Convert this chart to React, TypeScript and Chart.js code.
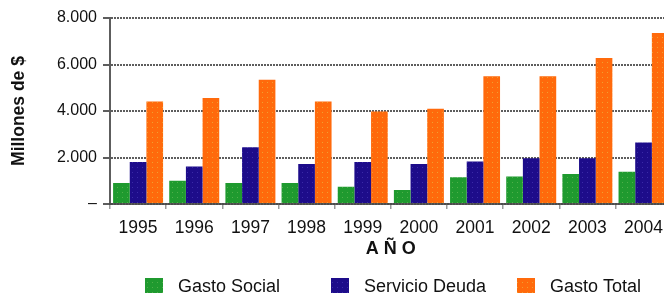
import React, { useEffect, useRef } from 'react';
import { Chart, registerables } from 'chart.js';

Chart.register(...registerables);

const categories = ['1995', '1996', '1997', '1998', '1999', '2000', '2001', '2002', '2003', '2004'];
const seriesLabels = ['Gasto Social', 'Servicio Deuda', 'Gasto Total'];
const gastoSocial = [905, 1005, 905, 905, 745, 605, 1150, 1180, 1295, 1390];
const servicioDeuda = [1810, 1610, 2445, 1725, 1810, 1725, 1825, 1970, 1970, 2640];
const gastoTotal = [4410, 4555, 5345, 4410, 3980, 4095, 5490, 5490, 6280, 7360];
const yTickValues = [0, 2000, 4000, 6000, 8000];
const yTickLabels = ['–', '2.000', '4.000', '6.000', '8.000'];
const yTitle = 'Millones de $';
const xTitle = 'A Ñ O';

const FONT = '"Liberation Sans", Arial, Helvetica, sans-serif';

function makePattern(base: string, dot: string): CanvasPattern | string {
  const c = document.createElement('canvas');
  c.width = 5;
  c.height = 5;
  const g = c.getContext('2d');
  if (!g) return base;
  g.fillStyle = base;
  g.fillRect(0, 0, 5, 5);
  g.fillStyle = dot;
  g.fillRect(2, 2, 1, 1);
  const p = g.createPattern(c, 'repeat');
  return p || base;
}

const fixedLegend = {
  id: 'fixedLegend',
  afterDraw(chart: any) {
    const ctx = chart.ctx;
    ctx.save();
    chart.data.datasets.forEach((ds: any, i: number) => {
      const x = 145 + i * 186;
      ctx.fillStyle = ds.backgroundColor;
      ctx.fillRect(x, 278, 18, 15);
      ctx.fillStyle = '#111';
      ctx.font = `18px ${FONT}`;
      ctx.textBaseline = 'alphabetic';
      ctx.textAlign = 'left';
      ctx.fillText(ds.label, x + 33, 292);
    });
    ctx.restore();
  },
};

export default function App() {
  const ref = useRef<HTMLCanvasElement | null>(null);

  useEffect(() => {
    document.body.style.margin = '0';
    const canvas = ref.current;
    if (!canvas) return;
    const green = makePattern('#1f9a2f', '#4fb04a');
    const navy = makePattern('#1d0c8a', '#3a2aa8');
    const orange = makePattern('#ff6a0c', '#f0a030');
    const gridColor = 'rgba(75,75,75,0.9)';

    const chart = new Chart(canvas, {
      type: 'bar',
      data: {
        labels: categories,
        datasets: [
          { label: seriesLabels[0], data: gastoSocial, backgroundColor: green as any },
          { label: seriesLabels[1], data: servicioDeuda, backgroundColor: navy as any },
          { label: seriesLabels[2], data: gastoTotal, backgroundColor: orange as any },
        ],
      },
      options: {
        responsive: false,
        animation: false,
        devicePixelRatio: 1,
        layout: { padding: { left: 0, right: 0, top: 18, bottom: 30 } },
        datasets: { bar: { categoryPercentage: 0.89, barPercentage: 1.0, borderWidth: 0 } },
        plugins: {
          legend: { display: false },
          tooltip: { enabled: false },
        },
        scales: {
          x: {
            offset: true,
            grid: {
              display: true,
              drawOnChartArea: false,
              drawTicks: true,
              tickLength: 5,
              color: '#999',
              lineWidth: 1.5,
            },
            border: { display: true, color: gridColor, width: 2, dash: [2, 1] },
            ticks: {
              color: '#111',
              font: { family: FONT, size: 17.5 },
              padding: 9,
              maxRotation: 0,
              autoSkip: false,
            },
            title: {
              display: true,
              text: xTitle,
              color: '#111',
              font: { family: FONT, size: 18, weight: 'bold' },
              padding: { top: 0, bottom: 5 },
            },
            afterFit(scale: any) {
              scale.height = 61;
            },
          },
          y: {
            min: 0,
            max: 8000,
            afterBuildTicks(scale: any) {
              scale.ticks = yTickValues.map((v) => ({ value: v }));
            },
            ticks: {
              color: '#111',
              font: { family: FONT, size: 16 },
              padding: 6,
              callback: (v: any) => {
                const i = yTickValues.indexOf(Number(v));
                return i >= 0 ? yTickLabels[i] : '';
              },
            },
            grid: {
              color: gridColor,
              lineWidth: 2,
              tickLength: 7,
              tickColor: gridColor,
            } as any,
            border: { display: true, color: gridColor, width: 2, dash: [2, 1] },
            title: {
              display: true,
              text: yTitle,
              color: '#111',
              font: { family: FONT, size: 17.5, weight: 'bold' },
              padding: { top: 8.5, bottom: 0 },
            },
            afterFit(scale: any) {
              scale.width = 110;
            },
          },
        },
      },
      plugins: [
        fixedLegend,
        {
          id: 'dashGrid',
          beforeDraw(chart: any) {
            const y = chart.scales.y;
            if (y) y.options.grid.borderDash = [2, 1];
          },
        },
      ],
    } as any);

    return () => chart.destroy();
  }, []);

  return (
    <div style={{ width: 664, height: 295, overflow: 'hidden' }}>
      <canvas ref={ref} width={672} height={295} style={{ display: 'block' }} />
    </div>
  );
}
